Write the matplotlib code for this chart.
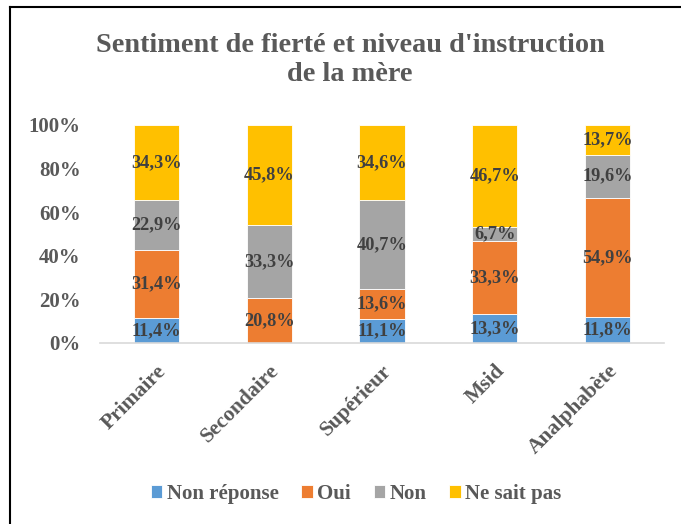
import numpy as np
import matplotlib
matplotlib.use("Agg")
import matplotlib.pyplot as plt
from matplotlib.lines import Line2D

# Données (en %)
niveaux = ["Primaire", "Secondaire", "Supérieur", "Msid", "Analphabète"]
non_reponse = [11.4, 0.0, 11.1, 13.3, 11.8]
oui = [31.4, 20.8, 13.6, 33.3, 54.9]
non = [22.9, 33.3, 40.7, 6.7, 19.6]
ne_sait_pas = [34.3, 45.8, 34.6, 46.7, 13.7]

series = [
    ("Non réponse", non_reponse, "#5B9BD5"),
    ("Oui", oui, "#ED7D31"),
    ("Non", non, "#A5A5A5"),
    ("Ne sait pas", ne_sait_pas, "#FFC000"),
]

plt.rcParams['font.family'] = ['Liberation Serif', 'DejaVu Serif']
plt.rcParams['font.weight'] = 'bold'

fig = plt.figure(figsize=(6.81, 5.24), dpi=100)
ax = fig.add_axes([100 / 681, 1 - 343 / 524, 564 / 681, 218 / 524])

x = np.arange(len(niveaux))
bottom = np.zeros(len(niveaux))
for nom, vals, couleur in series:
    vals = np.array(vals)
    ax.bar(x, vals, width=0.4, bottom=bottom, color=couleur, edgecolor="white",
           linewidth=0.6, label=nom)
    for xi, b, v in zip(x, bottom, vals):
        if v > 0:
            ax.text(xi, b + v / 2, f"{v:.1f}%".replace(".", ","), ha="center",
                    va="center", fontsize=13.2, fontweight="bold", color="#404040")
    bottom += vals

ax.set_xlim(-0.5, len(niveaux) - 0.5)
ax.set_ylim(0, 100)
ax.set_yticks([0, 20, 40, 60, 80, 100])
ax.set_yticklabels([f"{v}%" for v in range(0, 101, 20)], fontsize=15,
                   fontweight="bold", color="#595959")
ax.set_xticks(x)
ax.set_xticklabels(niveaux, rotation=45, ha="right", rotation_mode="anchor",
                   fontsize=15.5, fontweight="bold", color="#595959")
ax.tick_params(axis="both", length=0)
ax.tick_params(axis="y", pad=14)
ax.tick_params(axis="x", pad=13)
for s in ["top", "right", "left"]:
    ax.spines[s].set_visible(False)
ax.spines["bottom"].set_color("#D9D9D9")
ax.spines["bottom"].set_linewidth(1.2)

fig.text(350 / 681, 1 - 60 / 524, "Sentiment de fierté et niveau d'instruction\nde la mère",
         ha="center", va="center", fontsize=20.3, fontweight="bold", color="#595959",
         linespacing=1.2)

leg = fig.legend(loc="center", bbox_to_anchor=(356 / 681, 1 - 494 / 524), ncol=4,
                 frameon=False, prop={"family": "Liberation Serif", "weight": "bold", "size": 15},
                 handlelength=0.55, handleheight=0.55, handletextpad=0.2,
                 columnspacing=1.1)
for t in leg.get_texts():
    t.set_color("#595959")

# cadre de la figure
fig.add_artist(Line2D([10 / 681, 10 / 681], [0, 1 - 7 / 524], color="black", lw=1.5))
fig.add_artist(Line2D([10 / 681, 1], [1 - 7 / 524, 1 - 7 / 524], color="black", lw=1.5))

fig.savefig("out.png", dpi=100)
